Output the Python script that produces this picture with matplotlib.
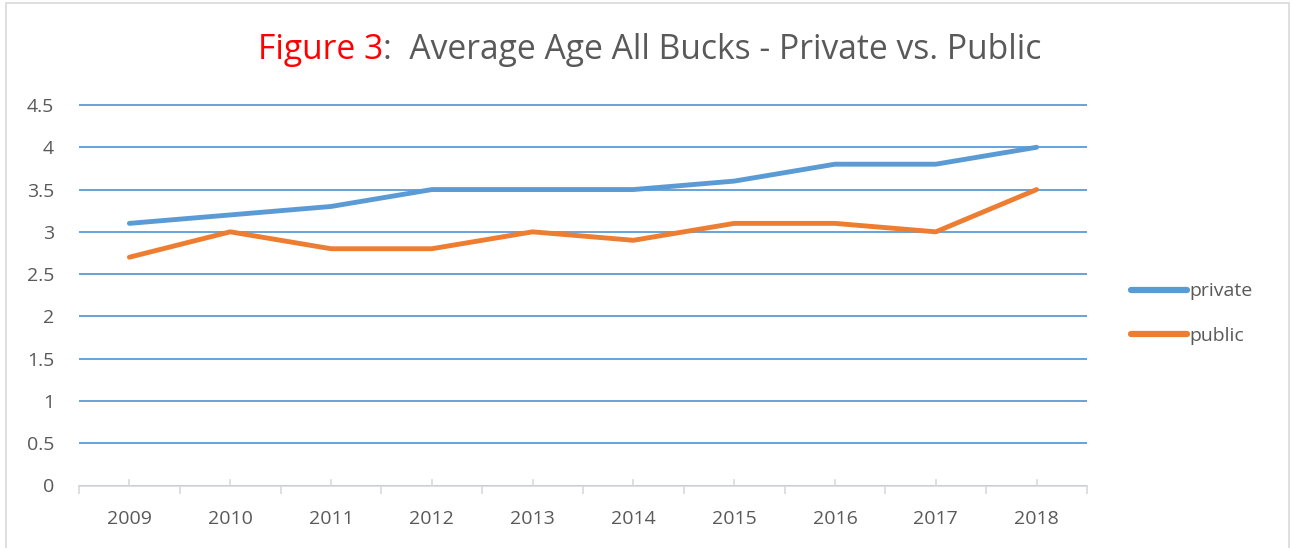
import matplotlib.pyplot as plt
from matplotlib.lines import Line2D
from matplotlib.patches import Rectangle
from matplotlib.ticker import FixedLocator, NullFormatter

years = ['2009', '2010', '2011', '2012', '2013', '2014', '2015', '2016', '2017', '2018']
private = [3.1, 3.2, 3.3, 3.5, 3.5, 3.5, 3.6, 3.8, 3.8, 4.0]
public = [2.7, 3.0, 2.8, 2.8, 3.0, 2.9, 3.1, 3.1, 3.0, 3.5]
y_ticks = [0, 0.5, 1, 1.5, 2, 2.5, 3, 3.5, 4, 4.5]
y_labels = ['0', '0.5', '1', '1.5', '2', '2.5', '3', '3.5', '4', '4.5']

BLUE = '#5B9BD5'
ORANGE = '#ED7D31'
GREY = '#595959'

plt.rcParams['font.family'] = ['Open Sans', 'DejaVu Sans']

W, H = 1292, 548
fig = plt.figure(figsize=(W / 100, H / 100), dpi=100)

# light border around the whole chart
fig.patches.append(Rectangle((6 / W, -0.01), (1289 - 6) / W, (H - 3) / H + 0.01,
                             transform=fig.transFigure, fill=False,
                             edgecolor='#D9D9D9', linewidth=1.2))

left, right = 79 / W, 1087 / W
bottom = (H - 485.5) / H
ymax = 4.55
top_px = 485.5 - ymax * (485.5 - 105) / 4.5
ax = fig.add_axes([left, bottom, right - left, (485.5 - top_px) / H])

x = list(range(len(years)))
ax.plot(x, private, color=BLUE, linewidth=3.5, solid_capstyle='round', zorder=3)
ax.plot(x, public, color=ORANGE, linewidth=3.5, solid_capstyle='round', zorder=3)

ax.set_xlim(-0.5, len(years) - 0.5)
ax.set_ylim(0, ymax)
ax.set_yticks(y_ticks)
ax.set_yticklabels(y_labels)
ax.yaxis.grid(True, color=BLUE, linewidth=1.3)
ax.tick_params(axis='y', length=0, pad=18, labelsize=14, labelcolor=GREY)

# category ticks: labels at centres, tick marks at boundaries
ax.set_xticks(x)
ax.set_xticklabels(years)
ax.tick_params(axis='x', which='major', length=0, pad=18, labelsize=14, labelcolor=GREY)
ax.xaxis.set_minor_locator(FixedLocator([i - 0.5 for i in range(len(years) + 1)]))
ax.xaxis.set_minor_formatter(NullFormatter())
ax.tick_params(axis='x', which='minor', length=6, width=1.2, color='#D9D9D9', direction='out')
for xi in x:
    ax.plot([xi, xi], [0, 0.07], color='#D9D9D9', linewidth=1.2, clip_on=False, zorder=2)

for s in ['top', 'right', 'left']:
    ax.spines[s].set_visible(False)
ax.spines['bottom'].set_color('#D9D9D9')
ax.spines['bottom'].set_linewidth(1.2)
ax.set_axisbelow(True)

# title with red "Figure 3", sized to span the same width as the original
title_y = 1 - 50 / H
t1 = fig.text(0.0, title_y, 'Figure 3', color='#FF0000', fontsize=22, va='center', ha='left')
t2 = fig.text(0.0, title_y, ':  Average Age All Bucks - Private vs. Public', color=GREY,
              fontsize=22, va='center', ha='left')
fig.canvas.draw()
r = fig.canvas.get_renderer()
total = t1.get_window_extent(r).width + t2.get_window_extent(r).width
fs = 22 * 784 / total
t1.set_fontsize(fs)
t2.set_fontsize(fs)
fig.canvas.draw()
w1 = t1.get_window_extent(r).width
x0 = 258
t1.set_x(x0 / W)
t2.set_x((x0 + w1) / W)

# legend
handles = [Line2D([], [], color=BLUE, linewidth=4.5, solid_capstyle='round'),
           Line2D([], [], color=ORANGE, linewidth=4.5, solid_capstyle='round')]
leg = fig.legend(handles, ['private', 'public'], loc='upper left',
                 bbox_to_anchor=(1113 / W, 1 - 265 / H), frameon=False,
                 fontsize=14, handlelength=2.9, handletextpad=0.15,
                 labelspacing=1.35, labelcolor=GREY)

fig.savefig('out.png', dpi=100)
